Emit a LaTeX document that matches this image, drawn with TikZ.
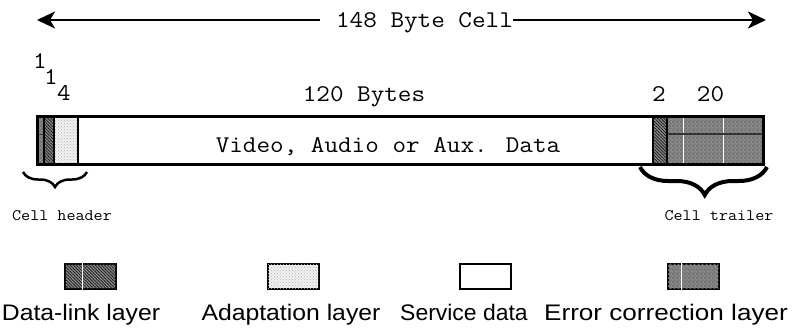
\documentclass[tikz,border=0pt]{standalone}
\usepackage{fontspec}
\setmainfont{Liberation Sans}
\usetikzlibrary{arrows.meta,decorations.pathreplacing,patterns,patterns.meta}

% fine two-tone checker for the error correction fill
\pgfdeclarepatternformonly{finechecker}{\pgfqpoint{0pt}{0pt}}{\pgfqpoint{4pt}{4pt}}{\pgfqpoint{4pt}{4pt}}{%
  \pgfpathrectangle{\pgfqpoint{0pt}{0pt}}{\pgfqpoint{2pt}{2pt}}%
  \pgfpathrectangle{\pgfqpoint{2pt}{2pt}}{\pgfqpoint{2pt}{2pt}}%
  \pgfusepath{fill}}

\newcommand{\widetext}[1]{\scalebox{1.1}[1]{#1}}

\tikzset{
  mono/.style={font=\ttfamily\fontsize{24}{27}\selectfont, inner sep=0pt, anchor=base},
  monosmall/.style={font=\ttfamily\fontsize{16}{18}\selectfont, inner sep=0pt, anchor=base},
  legendtext/.style={font=\fontsize{22.5}{26}\selectfont, inner sep=0pt, anchor=base},
  datalink/.style={fill=black!45, postaction={pattern={Lines[angle=-45,distance=2.2pt,line width=0.9pt]}, pattern color=black!85}},
  adapt/.style={fill=gray!10, postaction={pattern=crosshatch dots, pattern color=gray!60}},
  errcorr/.style={fill=black!47, postaction={pattern=finechecker, pattern color=black!56}},
  service/.style={fill=white},
  border/.style={line width=3pt},
  sep/.style={line width=2.5pt},
  keybox/.style={draw, line width=2pt, minimum width=51pt, minimum height=25pt, inner sep=0pt},
  sizearrow/.style={line width=2.6pt, -{Stealth[length=18pt,width=17pt,inset=5pt]}},
  bracelong/.style={decorate, decoration={brace, mirror, amplitude=15pt}, line width=2.5pt},
  bracetrail/.style={decorate, decoration={brace, mirror, amplitude=28pt, aspect=0.51}, line width=4pt},
}

\begin{document}
\begin{tikzpicture}[x=1pt, y=-1pt]
  \useasboundingbox (0,0) rectangle (804,335);

  % overall cell size
  \coordinate (arrL) at (37,20);
  \coordinate (arrR) at (766,20);
  \node[mono] (cellsize) at (424.5,27) {\widetext{148 Byte Cell}};
  \draw[sizearrow] ([xshift=-16pt]cellsize.west |- arrL) -- (arrL);
  \draw[sizearrow] (cellsize.east |- arrR) -- (arrR);

  % byte counts
  \node[mono] (n1a) at (40,68) {\widetext{1}};
  \node[mono] (n1b) at (51,84) {\widetext{1}};
  \node[mono] (n4) at (64,100) {\widetext{4}};
  \node[mono] (n120) at (364,101) {\widetext{120 Bytes}};
  \node[mono] (n2) at (659,101) {\widetext{2}};
  \node[mono] (n20) at (710.5,101) {\widetext{20}};

  % cell segments
  \fill[errcorr] (37,116) rectangle (44,164);
  \draw[line width=1pt, black!75] (37,134) -- (44,134);
  \fill[datalink] (44,116) rectangle (54,164);
  \fill[adapt] (54,116) rectangle (78,164);
  \fill[service] (78,116) rectangle (653,164);
  \fill[datalink] (653,116) rectangle (667,164);
  \fill[errcorr] (667,116) rectangle (763,164);
  \draw[line width=1pt, white] (683,117) -- (683,163) (723,117) -- (723,163);
  \draw[line width=1.2pt, black!80] (667,134) -- (763,134);

  % separators and outline
  \draw[sep] (44,116) -- (44,164) (54,116) -- (54,164) (78,116) -- (78,164);
  \draw[sep] (653,116) -- (653,164) (667,116) -- (667,164);
  \draw[border] (37,116) rectangle (763,164);

  \node[mono] (payload) at (388,152) {\widetext{Video, Audio or Aux. Data}};

  % header and trailer braces
  \coordinate (hdrL) at (23,172);
  \coordinate (hdrR) at (87,172);
  \draw[bracelong] (hdrL) -- (hdrR);
  \coordinate (trlL) at (640,167);
  \coordinate (trlR) at (767,167);
  \draw[bracetrail] (trlL) -- (trlR);
  \node[monosmall] (hdrlabel) at (62,220) {\widetext{Cell header}};
  \node[monosmall] (trllabel) at (719,220) {\widetext{Cell trailer}};

  % key
  \node[keybox, datalink] (kdl) at (90.5,276) {};
  \draw[line width=1pt, white] ([xshift=18pt]kdl.north west) -- ([xshift=18pt]kdl.south west);
  \node[keybox, adapt] (kad) at (293,276) {};
  \node[keybox, service] (ksd) at (485,276) {};
  \node[keybox, errcorr] (kec) at (693,276) {};
  \draw[line width=1pt, white] ([xshift=15pt]kec.north west) -- ([xshift=15pt]kec.south west);

  \node[legendtext] (tdl) at (81,320) {\widetext{Data-link layer}};
  \node[legendtext] (tad) at (291,320) {\widetext{Adaptation layer}};
  \node[legendtext] (tsd) at (464,320) {\scalebox{1.02}[1]{Service data}};
  \node[legendtext] (tec) at (666,320) {\scalebox{1.16}[1]{Error correction layer}};
\end{tikzpicture}
\end{document}
